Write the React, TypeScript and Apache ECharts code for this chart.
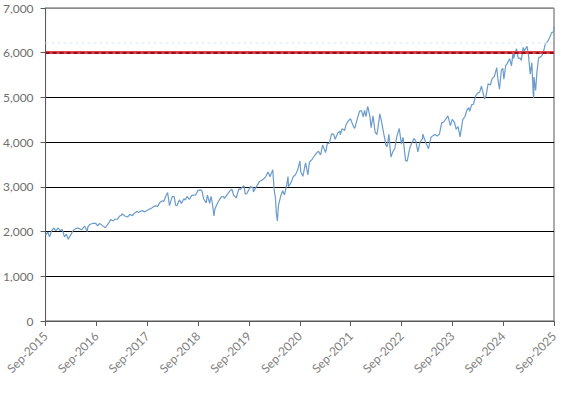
import React, { useEffect, useRef } from "react";
import * as echarts from "echarts";

const dates: string[] = [
  "2015-09-01","2015-09-17","2015-09-29","2015-10-15","2015-10-30","2015-11-13","2015-11-30","2015-12-14","2015-12-31",
  "2016-01-15","2016-01-29","2016-02-11","2016-02-29","2016-03-15","2016-03-31","2016-04-15","2016-04-29","2016-05-19","2016-05-31",
  "2016-06-08","2016-06-27","2016-06-30","2016-07-15","2016-07-29","2016-08-15","2016-08-31","2016-09-09","2016-09-22","2016-09-30",
  "2016-10-14","2016-11-04","2016-11-30","2016-12-13","2016-12-30",
  "2017-01-13","2017-01-31","2017-02-15","2017-02-28","2017-03-01","2017-03-27","2017-04-13","2017-04-28","2017-05-17","2017-05-31",
  "2017-06-19","2017-06-30","2017-07-14","2017-07-31","2017-08-10","2017-08-31","2017-09-15","2017-09-29","2017-10-16","2017-10-31",
  "2017-11-15","2017-11-30","2017-12-18","2017-12-29",
  "2018-01-12","2018-01-26","2018-02-08","2018-02-26","2018-03-12","2018-03-23","2018-04-02","2018-04-18","2018-05-03","2018-05-21",
  "2018-05-31","2018-06-12","2018-06-29","2018-07-17","2018-07-31","2018-08-15","2018-08-29","2018-09-20","2018-09-28","2018-10-11",
  "2018-10-29","2018-11-07","2018-11-23","2018-12-03","2018-12-14","2018-12-24","2018-12-31",
  "2019-01-15","2019-01-31","2019-02-15","2019-02-28","2019-03-08","2019-03-29","2019-04-15","2019-04-30","2019-05-13","2019-05-31",
  "2019-06-03","2019-06-20","2019-06-28","2019-07-26","2019-08-05","2019-08-14","2019-08-30","2019-09-12","2019-09-30","2019-10-02",
  "2019-10-31","2019-11-15","2019-11-29","2019-12-13","2019-12-31",
  "2020-01-17","2020-01-31","2020-02-19","2020-02-28","2020-03-09","2020-03-16","2020-03-23","2020-03-31","2020-04-15","2020-04-30",
  "2020-05-13","2020-05-29","2020-06-08","2020-06-11","2020-06-30","2020-07-15","2020-07-31","2020-08-17","2020-09-02","2020-09-08",
  "2020-09-23","2020-10-12","2020-10-30","2020-11-09","2020-11-30","2020-12-15","2020-12-31",
  "2021-01-14","2021-01-29","2021-02-12","2021-03-04","2021-03-17","2021-03-31","2021-04-16","2021-04-30","2021-05-12","2021-05-31",
  "2021-06-15","2021-06-18","2021-06-30","2021-07-19","2021-07-30","2021-08-16","2021-08-31","2021-09-02","2021-09-20","2021-09-30",
  "2021-10-04","2021-10-21","2021-11-05","2021-11-18","2021-11-30","2021-12-10","2021-12-20","2021-12-31",
  "2022-01-03","2022-01-18","2022-01-27","2022-02-09","2022-02-23","2022-03-08","2022-03-29","2022-04-08","2022-04-29","2022-05-12",
  "2022-05-20","2022-06-02","2022-06-16","2022-06-30","2022-07-15","2022-07-29","2022-08-16","2022-08-31","2022-09-12","2022-09-30",
  "2022-10-12","2022-10-31","2022-11-10","2022-11-30","2022-12-13","2022-12-28",
  "2023-01-13","2023-01-31","2023-02-02","2023-02-24","2023-03-13","2023-03-31","2023-04-17","2023-04-28","2023-05-15","2023-05-31",
  "2023-06-15","2023-06-30","2023-07-31","2023-08-18","2023-08-31","2023-09-15","2023-09-29","2023-10-12","2023-10-27","2023-11-15",
  "2023-11-30","2023-12-15","2023-12-29",
  "2024-01-04","2024-01-19","2024-01-31","2024-02-15","2024-02-29","2024-03-15","2024-03-28","2024-04-19","2024-04-30","2024-05-15",
  "2024-05-31","2024-06-14","2024-06-28","2024-07-16","2024-07-25","2024-08-05","2024-08-19","2024-08-30","2024-09-06","2024-09-19",
  "2024-09-30","2024-10-18","2024-10-31","2024-11-11","2024-11-15","2024-11-29","2024-12-06","2024-12-18","2024-12-31",
  "2025-01-10","2025-01-23","2025-01-31","2025-02-19","2025-02-28","2025-03-13","2025-03-25","2025-04-04","2025-04-08","2025-04-09",
  "2025-04-21","2025-04-30","2025-05-13","2025-05-30","2025-06-13","2025-06-30","2025-07-15","2025-07-31","2025-08-15","2025-08-29",
  "2025-09-01"
];

const values: number[] = [
  1921,1990,1884,2023,2079,2023,2080,2021,2044,
  1880,1940,1829,1932,2015,2060,2081,2065,2040,2097,
  2119,2001,2099,2162,2174,2190,2171,2128,2177,2168,
  2133,2085,2199,2272,2239,
  2275,2279,2349,2364,2396,2342,2329,2384,2357,2412,
  2453,2423,2459,2470,2438,2472,2500,2519,2557,2575,
  2564,2648,2690,2674,
  2786,2873,2581,2780,2783,2588,2582,2708,2630,2733,
  2705,2787,2718,2809,2816,2818,2914,2931,2914,2728,
  2641,2814,2633,2790,2600,2351,2507,
  2610,2704,2776,2784,2743,2834,2905,2946,2812,2752,
  2744,2954,2942,3026,2844,2840,2926,3009,2977,2888,
  3038,3120,3141,3169,3231,
  3330,3226,3386,2954,2747,2386,2237,2585,2783,2912,
  2820,3044,3232,3002,3100,3227,3271,3382,3580,3332,
  3237,3535,3270,3550,3622,3695,3756,
  3795,3714,3934,3768,3974,3973,4185,4181,4063,4204,
  4246,4166,4298,4258,4395,4479,4523,4537,4358,4308,
  4300,4549,4697,4704,4567,4712,4568,4766,
  4797,4577,4326,4587,4225,4170,4632,4488,4132,3930,
  3901,4177,3667,3785,3863,4130,4305,3955,4110,3586,
  3577,3872,3956,4080,4019,3783,
  3999,4077,4179,3970,3855,4109,4151,4169,4136,4180,
  4426,4450,4589,4370,4508,4450,4288,4349,4117,4502,
  4568,4719,4770,
  4688,4840,4846,5030,5096,5117,5254,4967,5036,5308,
  5278,5431,5460,5667,5400,5186,5608,5648,5408,5713,
  5762,5864,5705,6001,5870,6032,6090,5872,5882,
  5827,6119,6041,6144,5955,5522,5777,5074,4982,5457,
  5158,5569,5886,5912,5977,6205,6244,6339,6449,6470,
  6580
];

const yTicks: number[] = [0, 1000, 2000, 3000, 4000, 5000, 6000, 7000];
const xStartYear = 2015;
const referenceLevel = 6000;
const faintLevel = 6220;

function monthsSinceStart(d: string): number {
  const [y, m, day] = d.split("-").map(Number);
  const dim = new Date(Date.UTC(y, m, 0)).getUTCDate();
  return (y - xStartYear) * 12 + (m - 9) + (day - 1) / dim;
}

export default function App() {
  const ref = useRef<HTMLDivElement>(null);
  useEffect(() => {
    if (!ref.current) return;
    const chart = echarts.init(ref.current, undefined, { renderer: "svg" });
    const seriesData = dates.map((d, i) => [monthsSinceStart(d), values[i]]);
    const font = "Lato, 'Open Sans', sans-serif";
    chart.setOption({
      animation: false,
      grid: {
        left: 45, right: 16, top: 8, bottom: 73,
        show: true, borderColor: "#595959", borderWidth: 1, backgroundColor: "#fff",
      },
      xAxis: {
        type: "value", min: 0, max: 120, interval: 12,
        axisLine: { show: true, onZero: false, lineStyle: { color: "#595959", width: 1 } },
        axisTick: { show: true, length: 5, lineStyle: { color: "#595959" } },
        splitLine: { show: false },
        axisLabel: {
          rotate: 45, margin: 13, color: "#808080", fontSize: 12, fontFamily: font,
          formatter: (v: number) => "Sep-" + (xStartYear + Math.round(v / 12)),
        },
      },
      yAxis: {
        type: "value", min: yTicks[0], max: yTicks[yTicks.length - 1], interval: 1000,
        axisLine: { show: true, lineStyle: { color: "#595959", width: 1 } },
        axisTick: { show: true, length: 5, lineStyle: { color: "#595959" } },
        splitLine: {
          show: true,
          lineStyle: { color: ["#000", "#000", "#000", "#000", "#000", "#000", "#000", "#8c8c8c"], width: 1 },
        },
        axisLabel: {
          margin: 12, color: "#6e6e6e", fontSize: 12, fontFamily: font,
          formatter: (v: number) => v.toLocaleString("en-US"),
        },
      },
      series: [
        {
          type: "line",
          data: seriesData,
          showSymbol: false,
          lineStyle: { color: "#6a9ccb", width: 1.2 },
          z: 3,
          markLine: {
            silent: true, symbol: "none", label: { show: false },
            data: [
              { yAxis: faintLevel, lineStyle: { color: "#e6eef7", width: 1.5, type: [3, 3] } },
              { yAxis: referenceLevel, lineStyle: { color: "#e0404a", width: 3, type: "solid" } },
              { yAxis: referenceLevel, lineStyle: { color: "#7a0014", width: 1.6, type: [4, 3] } },
            ],
          },
        },
      ],
    });
    return () => chart.dispose();
  }, []);
  return <div ref={ref} style={{ width: 570, height: 394, position: "absolute", left: 0, top: 0 }} />;
}
